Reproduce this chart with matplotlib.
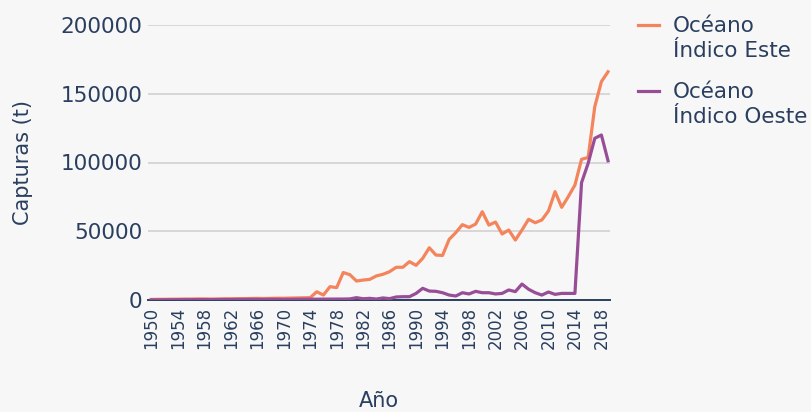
import numpy as np
from matplotlib import pyplot as plt
from matplotlib.lines import Line2D
from matplotlib.ticker import FuncFormatter

### catch data (t)
years = list(range(1950, 2020))

este = [400, 500, 500, 600, 600, 700, 700, 800, 800, 700,
        800, 900, 900, 1000, 1000, 1100, 1200, 1100, 1200, 1300,
        1300, 1400, 1500, 1600, 1700, 6000, 3600, 9700, 9000, 20000,
        18400, 13800, 14500, 15000, 17500, 18700, 20600, 23800, 23800, 27900,
        25200, 30300, 38000, 32700, 32400, 44100, 49000, 54800, 52800, 55200,
        64200, 54500, 56700, 48000, 50900, 43600, 50900, 58700, 56200, 58200,
        64700, 78800, 67400, 75200, 83600, 102300, 103700, 140600, 158800, 166000]

oeste = [100, 100, 150, 150, 200, 200, 250, 250, 300, 300,
         300, 350, 350, 400, 400, 450, 450, 400, 500, 500,
         400, 450, 500, 550, 600, 600, 650, 650, 700, 700,
         800, 1700, 900, 1200, 700, 1500, 1000, 2200, 2400, 2400,
         4800, 8500, 6500, 6300, 5300, 3600, 2900, 5300, 4400, 6300,
         5300, 5300, 4400, 4800, 7300, 6100, 11600, 7800, 5300, 3600,
         5800, 4100, 4800, 4800, 4800, 85300, 99400, 117600, 120000, 101300]

xticks = list(range(1950, 2019, 4))
labels = ['Océano\nÍndico Este', 'Océano\nÍndico Oeste']
colors = ['#f4845c', '#984e96']
text_col = '#2a3f5f'
bg = '#f7f7f7'

fig = plt.figure(figsize=(8.12, 4.12), dpi=100, facecolor=bg)
ax = fig.add_axes([148/812, 112/412, 462/812, 275/412], facecolor=bg)

ax.plot(years, este, color=colors[0], lw=2.3, zorder=3)
ax.plot(years, oeste, color=colors[1], lw=2.3, zorder=3)

ax.set_xlim(1949.5, 2019.3)
ax.set_ylim(0, 200000)
ax.set_yticks([0, 50000, 100000, 150000, 200000])
ax.set_xticks(xticks)
ax.set_xticklabels([str(y) for y in xticks], rotation=90, fontsize=12, color=text_col)
ax.yaxis.set_major_formatter(FuncFormatter(lambda v, p: '%d' % v))
ax.tick_params(axis='y', length=0, pad=4, labelsize=15.5, labelcolor=text_col)
ax.tick_params(axis='x', length=0, pad=5)
ax.grid(axis='y', color='#d4d4d4', lw=1.3)
ax.set_axisbelow(True)
for s in ['top', 'right', 'left']:
    ax.spines[s].set_visible(False)
ax.spines['bottom'].set_color(text_col)
ax.spines['bottom'].set_linewidth(1.4)
ax.spines['bottom'].set_zorder(2)

ax.set_xlabel('Año', fontsize=15, color=text_col, labelpad=30)
ax.set_ylabel('Capturas (t)', fontsize=15, color=text_col, labelpad=20)

# legend, outside the plot on the right
for i, (lab, c) in enumerate(zip(labels, colors)):
    yy = 1 - (25 + i*66)/412
    fig.add_artist(Line2D([638/812, 659/812], [yy, yy], color=c, lw=2.3))
    fig.text(673/812, yy + 9/412, lab, fontsize=15.5, color=text_col,
             va='top', ha='left', linespacing=1.3)

fig.savefig('out.png', dpi=100, facecolor=bg)
